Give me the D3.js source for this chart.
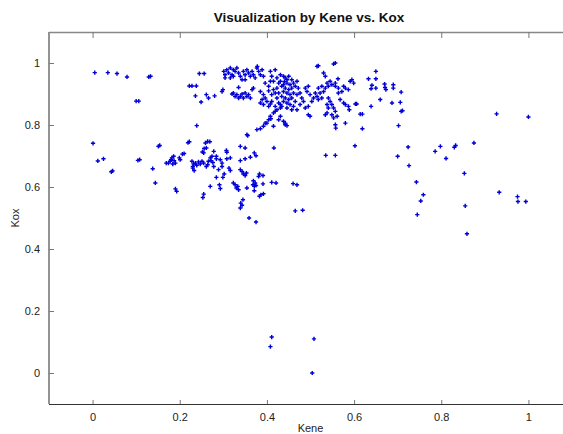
<!DOCTYPE html>
<html>
<head>
<meta charset="utf-8">
<script src="https://cdn.jsdelivr.net/npm/d3@7"></script>
<style>
body { margin: 0; background: #fff; }
svg { display: block; font-family: "Liberation Sans", Arial, sans-serif; }
.tick text { fill: #222; font-size: 11px; }
</style>
</head>
<body>
<div id="chart"></div>
<script>
var TITLE = "Visualization by Kene vs. Kox"
var X_LABEL = "Kene"
var Y_LABEL = "Kox"
var xTicks = [0, 0.2, 0.4, 0.6, 0.8, 1]
var yTicks = [0, 0.2, 0.4, 0.6, 0.8, 1]

// [Kene, Kox], grouped by region
var farLeft = [[0.005,0.969],[0.035,0.969],[0.056,0.966],[0.079,0.955],[0.129,0.955],[0.133,0.957],
  [0.100,0.877],[0.106,0.877],[0.001,0.741],[0.012,0.684],[0.025,0.691],[0.043,0.649],[0.046,0.652],
  [0.104,0.686],[0.108,0.688],[0.138,0.659],[0.144,0.613],[0.151,0.731],[0.154,0.734],[0.190,0.594],
  [0.193,0.586],[0.219,0.743],[0.222,0.746],[0.239,0.798],[0.245,0.966],[0.256,0.966],[0.222,0.926],
  [0.228,0.926],[0.238,0.926],[0.236,0.894],[0.249,0.874]]

var lowerCluster = [[0.264,0.747],[0.269,0.746],[0.259,0.742],[0.256,0.724],[0.261,0.726],[0.252,0.713],
  [0.255,0.710],[0.307,0.718],[0.416,0.726],[0.356,0.766],[0.169,0.677],[0.174,0.677],[0.178,0.683],
  [0.182,0.694],[0.186,0.699],[0.180,0.688],[0.187,0.685],[0.184,0.674],[0.190,0.677],[0.199,0.694],
  [0.201,0.688],[0.206,0.706],[0.210,0.708],[0.228,0.683],[0.232,0.674],[0.230,0.666],[0.236,0.677],
  [0.239,0.670],[0.243,0.681],[0.247,0.674],[0.251,0.683],[0.255,0.677],[0.261,0.666],[0.266,0.683],
  [0.270,0.694],[0.272,0.685],[0.276,0.679],[0.284,0.691],[0.274,0.699],[0.233,0.653],[0.230,0.661],
  [0.264,0.672],[0.297,0.677],[0.308,0.691],[0.313,0.661],[0.316,0.653],[0.302,0.642],[0.299,0.631],
  [0.284,0.631],[0.270,0.602],[0.291,0.607],[0.293,0.595],[0.253,0.566],[0.339,0.685],[0.350,0.691],
  [0.362,0.696],[0.339,0.656],[0.343,0.650],[0.346,0.642],[0.350,0.637],[0.353,0.645],[0.323,0.613],
  [0.327,0.607],[0.333,0.602],[0.335,0.591],[0.330,0.597],[0.369,0.620],[0.373,0.613],[0.371,0.602],
  [0.375,0.605],[0.368,0.607],[0.383,0.642],[0.391,0.637],[0.386,0.575],[0.383,0.570],[0.345,0.559],
  [0.340,0.548],[0.343,0.541],[0.339,0.532],[0.359,0.500],[0.375,0.487],[0.421,0.613],[0.278,0.715],
  [0.284,0.699],[0.293,0.688],[0.308,0.712],[0.316,0.694],[0.255,0.577],[0.278,0.666],[0.289,0.656],
  [0.297,0.666],[0.354,0.597],[0.371,0.588],[0.391,0.610],[0.411,0.615],[0.392,0.578],[0.371,0.710],
  [0.375,0.701],[0.339,0.731],[0.350,0.726],[0.381,0.634]]

var bottomOutliers = [[0.411,0.116],[0.408,0.085],[0.508,0.110],[0.504,0.000],[0.859,0.449]]

var rightSide = [[0.927,0.836],[1.000,0.826],[0.875,0.742],[0.833,0.734],[0.830,0.728],[0.798,0.731],
  [0.786,0.715],[0.811,0.692],[0.853,0.644],[0.724,0.729],[0.700,0.699],[0.726,0.669],[0.743,0.616],
  [0.759,0.575],[0.753,0.555],[0.745,0.511],[0.855,0.539],[0.933,0.583],[0.975,0.569],[0.976,0.553],
  [0.994,0.553],[0.602,0.733],[0.535,0.702],[0.557,0.702],[0.460,0.611],[0.469,0.607],[0.465,0.523],
  [0.482,0.525]]

var upperLeft = [[0.261,0.898],[0.266,0.887],[0.280,0.894],[0.299,0.914],[0.297,0.908],[0.301,0.973],
  [0.308,0.978],[0.316,0.984],[0.323,0.978],[0.304,0.962],[0.312,0.968],[0.320,0.962],[0.327,0.973],
  [0.331,0.984],[0.304,0.952],[0.316,0.952],[0.323,0.957],[0.335,0.968],[0.339,0.957],[0.346,0.973],
  [0.350,0.962],[0.354,0.978],[0.358,0.968],[0.362,0.957],[0.366,0.973],[0.369,0.962],[0.343,0.946],
  [0.350,0.946],[0.377,0.984],[0.381,0.973],[0.385,0.962],[0.389,0.978],[0.373,0.952],[0.378,0.989],
  [0.392,0.957],[0.323,0.903],[0.331,0.898],[0.339,0.892],[0.343,0.900],[0.350,0.903],[0.354,0.892],
  [0.358,0.898],[0.335,0.887],[0.346,0.887],[0.362,0.887],[0.327,0.892],[0.320,0.900],[0.335,0.921],
  [0.366,0.914],[0.369,0.919],[0.396,0.935],[0.404,0.925],[0.408,0.941],[0.385,0.908],[0.392,0.898],
  [0.396,0.887],[0.389,0.882],[0.400,0.876],[0.385,0.871],[0.392,0.866],[0.404,0.860],[0.408,0.868],
  [0.415,0.914],[0.419,0.903],[0.423,0.887],[0.411,0.876],[0.427,0.871],[0.419,0.860],[0.423,0.849],
  [0.415,0.839],[0.408,0.828],[0.404,0.817],[0.396,0.806],[0.392,0.796],[0.385,0.788],[0.377,0.785],
  [0.354,0.769],[0.419,0.844],[0.431,0.828],[0.427,0.817],[0.438,0.812],[0.442,0.801],[0.431,0.855],
  [0.408,0.973],[0.419,0.978],[0.431,0.962],[0.438,0.957],[0.446,0.946],[0.411,0.957],[0.423,0.952],
  [0.415,0.796],[0.409,0.820],[0.400,0.806],[0.446,0.798],[0.427,0.935],[0.434,0.925],[0.431,0.941],
  [0.438,0.908],[0.434,0.892],[0.427,0.903],[0.438,0.876],[0.431,0.866],[0.423,0.919],[0.415,0.941],
  [0.411,0.898],[0.404,0.910],[0.438,0.930],[0.446,0.871],[0.434,0.860],[0.440,0.940],[0.442,0.806]]

var upperRight = [[0.515,0.989],[0.518,0.991],[0.553,0.997],[0.557,1.000],[0.530,0.968],[0.534,0.957],
  [0.563,0.949],[0.591,0.941],[0.595,0.946],[0.599,0.935],[0.633,0.949],[0.650,0.973],[0.650,0.949],
  [0.641,0.928],[0.639,0.917],[0.650,0.919],[0.670,0.932],[0.671,0.921],[0.673,0.914],[0.690,0.930],
  [0.690,0.919],[0.708,0.906],[0.660,0.882],[0.687,0.871],[0.706,0.873],[0.639,0.860],[0.708,0.844],
  [0.711,0.846],[0.702,0.798],[0.619,0.788],[0.614,0.835],[0.619,0.835],[0.603,0.868],[0.606,0.868],
  [0.587,0.860],[0.589,0.849],[0.580,0.806],[0.557,0.801],[0.558,0.790],[0.576,0.871],[0.580,0.866],
  [0.568,0.882],[0.541,0.887],[0.545,0.876],[0.549,0.866],[0.553,0.855],[0.557,0.844],[0.538,0.866],
  [0.541,0.855],[0.549,0.833],[0.553,0.823],[0.561,0.828],[0.534,0.833],[0.538,0.839],[0.518,0.919],
  [0.526,0.925],[0.534,0.919],[0.541,0.925],[0.549,0.930],[0.557,0.925],[0.564,0.919],[0.522,0.903],
  [0.530,0.908],[0.515,0.892],[0.518,0.882],[0.526,0.887],[0.564,0.903],[0.572,0.908],[0.580,0.919],
  [0.587,0.914],[0.576,0.925],[0.557,0.935],[0.538,0.935],[0.545,0.941],[0.488,0.919],[0.495,0.925],
  [0.492,0.908],[0.499,0.898],[0.480,0.887],[0.484,0.876],[0.476,0.866],[0.488,0.855],[0.495,0.860],
  [0.503,0.876],[0.507,0.887],[0.511,0.903],[0.495,0.833],[0.499,0.828],[0.442,0.952],[0.450,0.957],
  [0.457,0.946],[0.446,0.935],[0.453,0.930],[0.461,0.935],[0.469,0.941],[0.442,0.919],[0.450,0.914],
  [0.457,0.919],[0.465,0.925],[0.472,0.919],[0.446,0.903],[0.453,0.898],[0.461,0.903],[0.469,0.898],
  [0.476,0.903],[0.442,0.887],[0.450,0.882],[0.457,0.887],[0.465,0.876],[0.453,0.866],[0.461,0.860],
  [0.446,0.855],[0.469,0.849],[0.457,0.849]]

var points = farLeft.concat(lowerCluster, bottomOutliers, rightSide, upperLeft, upperRight)

var width = 563, height = 434
// plot box (right edge runs past the window, as in the reference)
var boxLeft = 49, boxTop = 32, boxRight = 572, boxBottom = 404

var svg = d3.select("#chart").append("svg")
  .attr("width", width)
  .attr("height", height)

var x = d3.scaleLinear().domain([-0.1, 1.1]).range([boxLeft, boxRight])
var y = d3.scaleLinear().domain([-0.1, 1.1]).range([boxBottom, boxTop])

svg.append("text")
  .attr("x", 309)
  .attr("y", 22)
  .attr("text-anchor", "middle")
  .style("font-size", "13.5px")
  .style("font-weight", "bold")
  .style("fill", "#111")
  .text(TITLE)

// box lines
svg.append("line").attr("x1", boxLeft).attr("x2", width).attr("y1", boxTop + 0.5).attr("y2", boxTop + 0.5)
  .attr("stroke", "#888").attr("stroke-width", 1.5)
svg.append("line").attr("x1", boxLeft).attr("x2", boxLeft).attr("y1", boxTop).attr("y2", boxBottom)
  .attr("stroke", "#888").attr("stroke-width", 1.8)

var xAxis = svg.append("g")
  .attr("transform", "translate(0," + boxBottom + ")")
  .call(d3.axisBottom(x).tickValues(xTicks).tickSize(-4).tickPadding(9).tickFormat(d3.format("")))
var xTop = svg.append("g")
  .attr("transform", "translate(0," + boxTop + ")")
  .call(d3.axisTop(x).tickValues(xTicks).tickSize(-6).tickFormat(""))
var yAxis = svg.append("g")
  .attr("transform", "translate(" + boxLeft + ",0)")
  .call(d3.axisLeft(y).tickValues(yTicks).tickSize(-5).tickPadding(9).tickFormat(d3.format("")))

xTop.select(".domain").remove()
yAxis.select(".domain").remove()
xAxis.select(".domain").attr("stroke", "#333").attr("d", "M" + boxLeft + ",0.5H" + width)
svg.selectAll(".tick line").attr("stroke", "#777")

svg.append("text")
  .attr("x", (boxLeft + boxRight) / 2)
  .attr("y", 432)
  .attr("text-anchor", "middle")
  .style("font-size", "11px")
  .style("fill", "#222")
  .text(X_LABEL)

svg.append("text")
  .attr("transform", "translate(19," + ((boxTop + boxBottom) / 2) + ")rotate(-90)")
  .attr("text-anchor", "middle")
  .style("font-size", "11px")
  .style("fill", "#222")
  .text(Y_LABEL)

var marker = d3.symbol().type(d3.symbolCross).size(10)

svg.append("g")
  .selectAll("path")
  .data(points)
  .enter().append("path")
    .attr("d", marker)
    .attr("transform", function(d){ return "translate(" + x(d[0]) + "," + y(d[1]) + ")" })
    .attr("fill", "#0000d8")
</script>
</body>
</html>
